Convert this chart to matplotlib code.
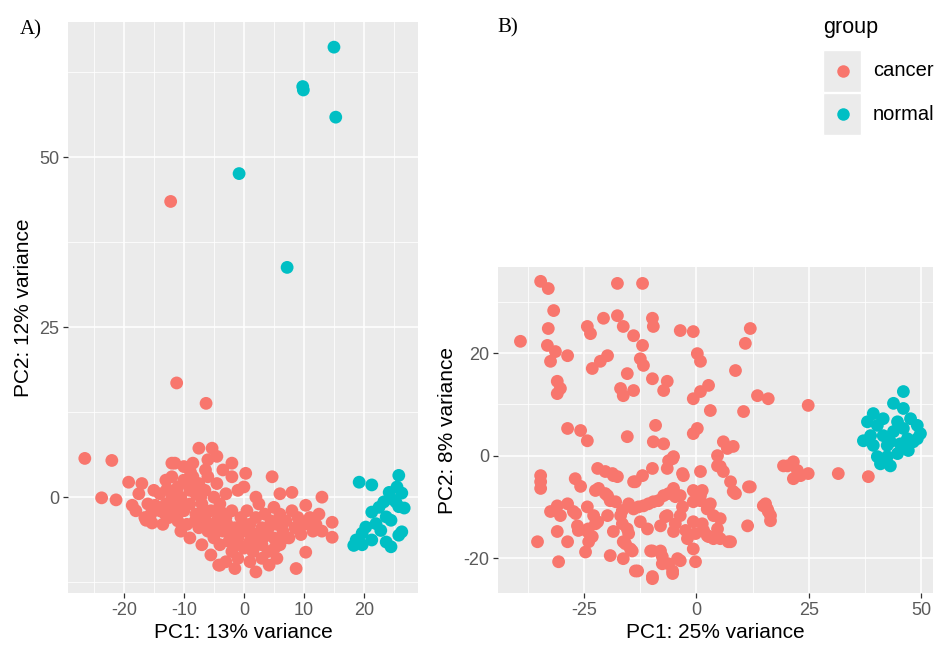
import numpy as np
import matplotlib.pyplot as plt
from matplotlib.patches import Rectangle
from matplotlib.lines import Line2D

plt.rcParams['font.family'] = ['Liberation Sans', 'DejaVu Sans']
plt.rcParams['axes.unicode_minus'] = False

groups = ["cancer", "normal"]
group_colors = ["#F8766D", "#00BFC4"]

# panel A: PC1 vs PC2 (13% / 12% variance)
a_cancer = [
    (-12.2, 43.5), (-11.2, 16.8), (-6.3, 13.8),
    (-26.5, 5.7), (-22, 5.4), (-23.7, -0.1), (-21.3, -0.4), (-19.2, 2.2), (-18.6, -1.2),
    (-17, 2), (-16.3, -3.4), (-15.3, -3.8), (-12, 5), (-7.5, 7.2), (-5.3, 7.2), (-8.9, 3.7),
    (-6.4, 4), (-2, 5), (0.3, 3.5), (4.7, 3), (8, 0.7), (10.3, -1.2), (13, 0), (14.7, -3.7),
    (14.7, -5.9), (-4.2, -10), (4.2, -10), (8.7, -10.5), (10.3, -8.1),
    (-16, -1), (-15, 1), (-14, -2), (-14, 0.5), (-13, 2.5), (-13, -1), (-12.5, -3), (-12, 0),
    (-12, 3), (-11.5, -1.5), (-11, 1.5), (-11, -3.5), (-10.5, 0), (-10, 2.5), (-10, -2),
    (-9.5, -4), (-9, 1), (-9, -1), (-8.5, 3), (-8, -2.5), (-8, 0.5), (-7.5, -4.5), (-7.5, 2),
    (-7, -1), (-6.5, 1), (-6.5, -3), (-6, -5), (-6, 3), (-5.5, -2), (-5, 0), (-5, -6),
    (-4.5, -3.5), (-4.5, 2), (-4, -7), (-4, -1), (-3.5, -5), (-3, -3), (-3, 0.5), (-2.5, -6.5),
    (-2, -2), (-2, -8), (-1.5, -4.5), (-1, -6), (-1, 1), (-0.5, -3), (0, -5), (0, -7.5),
    (0.5, -2), (1, -4), (1, -6.5), (1.5, -8), (2, -3), (2, -5.5), (2.5, -1), (3, -4.5),
    (3, -7), (3.5, -2.5), (4, -5.5), (4, -8), (4.5, -3.5), (5, -6), (5, -1.5), (5.5, -4),
    (6, -7), (6, -2.5), (6.5, -5), (7, -3.5), (7.5, -6), (8, -2), (8.5, -4.5), (9, -3),
    (9.5, -5.5), (10, -4), (11, -3), (11.5, -5), (12, -4), (12.5, -2.5), (13, -5),
    (-17.5, 0.5), (-18, -2), (-16.5, -3), (-15.5, -2.5), (-13.5, -4), (-10.5, -5), (-9, -6),
    (-7, -7), (-5.5, -8.5), (-3, -9.5), (-1, -9), (1, -9.5), (3, -9), (-2, 3), (-3.5, 4),
    (-6, 5.5), (-8.5, 5), (-10, 4.5), (-11.5, 5), (-4.5, 6), (0, 1.5), (2, 0), (6, 0.5),
    (-1.5, -10.5), (-4, -10), (2, -11), (5.5, -9),
    (-12.8, 1.2), (-11.8, -2.6), (-10.2, -1), (-9.2, 2), (-8.2, -3.6), (-7.2, 0), (-6.8, -2),
    (-5.8, -4), (-4.8, -5), (-3.8, -2.2), (-2.8, -4), (-1.8, -5.4), (-0.8, -7), (0.2, -4),
    (1.2, -5.2), (2.2, -7), (3.2, -6), (4.2, -4.4), (5.2, -7.4), (6.8, -6), (-14.8, -1.2),
    (-13.2, -2.4),
]
a_normal = [
    (15, 66.2), (9.8, 60.4), (9.9, 59.9), (15.3, 55.9), (-0.8, 47.6), (7.2, 33.8),
    (19.2, 2.2), (21.3, 1.8), (25.8, 3.2), (24.2, 0.7), (26.3, 0.6), (25.3, -0.7),
    (26.7, -1.6), (22.5, -1.5), (21.3, -2.2), (23.7, -2.9), (24.5, -3.4), (22, -3.9),
    (20.3, -4.4), (19.7, -5.3), (18.7, -6.3), (18.3, -7.1), (19.7, -7), (21.3, -6.3),
    (23.7, -6.6), (24.5, -7.3), (25.8, -5.6), (26.3, -5.1), (25.5, 1.5), (24.5, -0.2),
    (25.8, -1.4), (23.3, -0.7), (22.8, -4.9),
]

# panel B: PC1 vs PC2 (25% / 8% variance)
b_cancer = [
    (-34.7, 34), (-33, 32.6), (-17.6, 33.6), (-12, 33.6), (-39.2, 22.3), (-31.8, 28.3),
    (-33, 24.8), (-33.2, 21.5), (-31.4, 20.3), (-32.5, 18.4), (-28.7, 19.5), (-31, 14.5),
    (-30.3, 13.1), (-31, 12.1), (-24.3, 25.2), (-23.6, 23.8), (-20.7, 26.8), (-17.6, 27.3),
    (-16.3, 25.2), (-14, 23.4), (-9.8, 26.8), (-9.6, 25.2), (-12, 21.5), (-12.5, 18.9),
    (-11.8, 17.6), (-23.2, 17), (-21.4, 18.4), (-19.8, 19.5), (-15.4, 16), (-16.9, 13.1),
    (-14, 12.7), (-16.3, 11.7), (-9.8, 15), (-6.5, 14.5), (-7.3, 12.7), (-3.6, 24.4),
    (-0.7, 24.2), (0.2, 19.9), (0.9, 18.4), (2.7, 13.7), (0.9, 12.5), (-0.7, 11.1),
    (3.1, 8.8), (0.2, 5.3), (-0.7, 4.3), (8.7, 16.6), (12, 24.8), (10.9, 21.9), (10.5, 8.6),
    (13.6, 11.7), (16, 11.1), (24.9, 9.8),
    (-28.7, 5.3), (-25.8, 4.9), (-24.3, 2.9), (-15.4, 3.7), (-9.1, 5.9), (-9.6, 2.7),
    (-7.3, 2.3), (-5.3, -0.6), (-6.5, -2.5), (-2.9, -3.9), (0.9, -3.1), (6, 2.7), (6.9, 1.4),
    (8.2, 1.8), (4.7, 0), (4.7, -2), (5.3, -2.1), (-6.2, -1), (-5.1, -0.2), (-3.1, -3.5),
    (-18.7, -3.5), (-17.6, -4.1), (-13.6, -5.1),
    (-34.7, -3.9), (-34.7, -5.1), (-34.7, -6.4), (-27, -4.5), (-25.8, -6), (-22, -2.5),
    (-20.3, -3.1), (-18.5, -3.9), (-21.8, -6.4), (-19.8, -7.8), (-18, -9), (-14, -5.1),
    (-12, -3.9), (-9.8, -2.5), (-31, -9.8), (-28.7, -9.4), (-32.5, -10.9), (-30.3, -11.7),
    (-27.4, -10.9), (-24.3, -10), (-22.9, -11.7), (-22, -12.9), (-26.5, -13.7),
    (-24.3, -14.8), (-24, -16.8), (-31, -14.8), (-35.4, -16.8), (-28.7, -16.8),
    (-30.7, -20.7), (-24.7, -18.8), (-19.2, -19.5), (-16.3, -20.1), (-13.1, -22.5),
    (-9.8, -24), (-7.6, -21.1), (-5.3, -22.5), (-4.2, -20.1), (-0.2, -20.7), (-10.2, -18.6),
    (-8, -18.6), (-10.9, -14.3), (-16.3, -16.8), (-14.7, -18.2), (-16.9, -11.7), (-14, -10.4),
    (-11.8, -9.8), (-9.6, -9), (-7.3, -7.8), (-5.1, -6.4), (-3.6, -7.8), (-0.7, -9),
    (0.9, -7.8), (2.4, -10.4), (3.8, -11.7), (4.7, -14.3), (5.3, -16.2), (7.6, -16.8),
    (2.4, -15.6), (-0.7, -12.9), (-3.6, -11.7), (-6.5, -11.7), (-8, -13.7), (-5.1, -14.8),
    (-2, -16.2), (-0.7, -18.2), (-12.5, -12.9), (-15.4, -14.3), (-18.5, -14.8),
    (-19.8, -11.7), (-22.5, -6.8), (-20.3, -7.4), (-19.2, -8.8), (-26.9, -11.3),
    (-26.3, -14.6), (-24.1, -14.3), (-23.2, -15.8), (-22.5, -13.3), (-16.5, -10.7),
    (-15.1, -9.4), (-12.9, -10), (-10.7, -9.4), (-8.5, -8.8), (-6.2, -7.4), (-4.7, -8),
    (-3.1, -10), (-16.5, -13.3), (-15.1, -15.2), (-15.8, -17.2), (-14.3, -18.6),
    (-9.8, -18.6), (-7.6, -19.7), (-6.2, -21.1), (-5.3, -23), (-13.6, -22.5), (-9.8, -23.6),
    (-6.9, -11.9), (-4.7, -13.3), (-2.4, -14.6), (-0.2, -15.2), (1.3, -13.3), (2.7, -15.8),
    (2.7, -10), (1.3, -6.8),
    (6, -3.1), (7.6, -5.1), (8.2, -7), (12, -6.1), (8.7, -7.4), (11.6, -6.1), (-0.7, -6.8),
    (0.9, -8.8), (3.1, -9.4), (5.3, -12.3), (1.6, -14.6), (3.8, -16.2), (7.1, -16.8),
    (-3.6, -20.5), (11.4, -13.7), (15.8, -10.4), (16.5, -11.7), (16.5, -12.7), (14.9, -9.8),
    (15.4, -9.4), (16, -10.9),
    (20.3, -2), (21.6, -1.2), (22.5, -2.9), (23.2, -3.9), (24.9, -3.5), (21.6, -4.5),
    (19.4, -2), (31.6, -3.5), (38.3, -4.1),
]
b_normal = [
    (46.1, 12.5), (43.9, 10.2), (46.1, 9.2), (39.4, 8.2), (38.1, 6.6), (41.6, 7.2),
    (47.7, 7.2), (49.2, 5.9), (49.9, 4.3), (46.1, 5.3), (43.9, 4.7), (41.6, 3.9),
    (38.8, 3.9), (37.2, 2.9), (39.4, 2), (42.5, 2), (45.4, 2.3), (48.3, 2.7), (47.2, 1),
    (44.8, 0.4), (42.5, -0.2), (40.3, -0.2), (43.2, -2), (41, -1.6), (49.2, 3.3),
    (44.8, 6.6), (40.3, 5.9), (47, 3.3), (43.2, 2.7),
]

W, H = 934, 660
fig = plt.figure(figsize=(W / 100, H / 100), dpi=100)


def px_box(l, t, r, b):
    return [l / W, 1 - b / H, (r - l) / W, (b - t) / H]


def style(ax, xmaj, xmin, ymaj, ymin, xlim, ylim):
    ax.set_facecolor('#EBEBEB')
    for s in ax.spines.values():
        s.set_visible(False)
    ax.set_xticks(xmaj)
    ax.set_xticks(xmin, minor=True)
    ax.set_yticks(ymaj)
    ax.set_yticks(ymin, minor=True)
    ax.set_xlim(xlim)
    ax.set_ylim(ylim)
    ax.grid(which='major', color='white', lw=1.1)
    ax.grid(which='minor', color='white', lw=0.55)
    ax.tick_params(which='major', length=3.5, width=0.9, color='#333333',
                   labelsize=13, labelcolor='#5A5A5A', pad=3)
    ax.tick_params(which='minor', length=0)
    ax.set_axisbelow(True)


def draw(ax, cancer, normal):
    for pts, c in zip([cancer, normal], group_colors):
        x, y = np.array(pts).T
        ax.scatter(x, y, s=85, color=c, edgecolors='none', zorder=3)


axA = fig.add_axes(px_box(68, 22, 418, 593))
style(axA, [-20, -10, 0, 10, 20], [-25, -15, -5, 5, 15, 25],
      [0, 25, 50], [-12.5, 12.5, 37.5, 62.5], (-29.3, 29), (-14.1, 69.9))
draw(axA, a_cancer, a_normal)
axA.set_xlabel('PC1: 13% variance', fontsize=15, labelpad=3)
axA.set_ylabel('PC2: 12% variance', fontsize=15, labelpad=4)

axB = fig.add_axes(px_box(498, 267, 933, 593))
style(axB, [-25, 0, 25, 50], [-37.5, -12.5, 12.5, 37.5],
      [-20, 0, 20], [-10, 10, 30], (-44.2, 52.7), (-26.8, 36.8))
draw(axB, b_cancer, b_normal)
axB.set_xlabel('PC1: 25% variance', fontsize=15, labelpad=3)
axB.set_ylabel('PC2: 8% variance', fontsize=15, labelpad=4)

# panel tags
fig.text(20 / W, 1 - 30 / H, 'A)', fontsize=15, family='Liberation Serif', va='center')
fig.text(497 / W, 1 - 28 / H, 'B)', fontsize=15, family='Liberation Serif', va='center')

# legend
fig.text(823 / W, 1 - 28 / H, 'group', fontsize=15.5, va='center')
for i, (g, c) in enumerate(zip(groups, group_colors)):
    yc = 71 + i * 43
    fig.add_artist(Rectangle((823 / W, 1 - (yc + 21) / H), 38 / W, 42 / H,
                             transform=fig.transFigure, facecolor='#EBEBEB',
                             edgecolor='white', lw=1))
    fig.add_artist(Line2D([843 / W], [1 - yc / H], marker='o', markersize=9,
                          color=c, markeredgewidth=0, transform=fig.transFigure))
    fig.text(873 / W, 1 - yc / H, g, fontsize=14.5, va='center')

fig.savefig('out.png', dpi=100)
